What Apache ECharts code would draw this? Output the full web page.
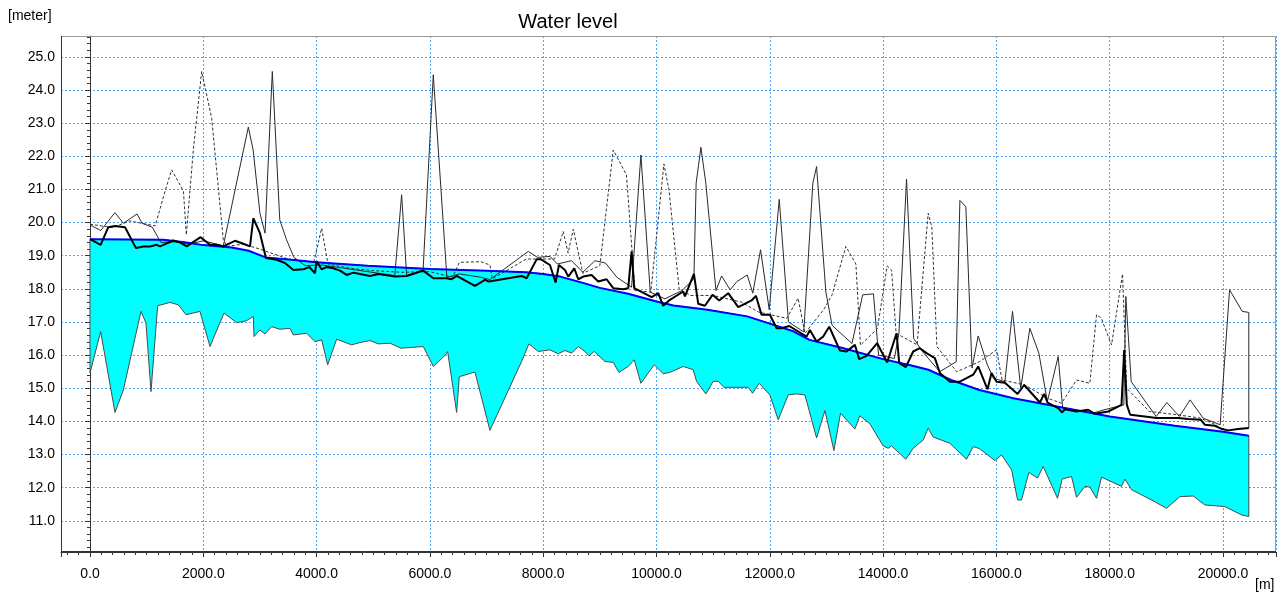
<!DOCTYPE html>
<html lang="en">

<head>
  <meta charset="UTF-8">
  <title>Water level</title>
  <script src="https://cdn.jsdelivr.net/npm/echarts@6/dist/echarts.min.js"></script>
  <style>
    html, body { margin: 0; padding: 0; background: #fff; }
    #chart { width: 1284px; height: 594px; }
  </style>
</head>

<body>
  <div id="chart"></div>

  <script>
    // water surface (blue line, top of the cyan area)
    var waterX = [0, 1300, 1700, 2000, 2500, 2800, 3100, 3600, 4000, 4900, 6000, 7000, 7700, 8000, 8300, 8700, 9000, 9500, 10000, 10300, 10900, 11600, 12000, 12400, 12700, 13300, 14000, 14500, 14800, 15200, 15700, 16300, 17000, 18000, 19150, 20000, 20456]
    var waterY = [19.50, 19.48, 19.40, 19.32, 19.25, 19.15, 18.95, 18.87, 18.80, 18.70, 18.60, 18.55, 18.50, 18.45, 18.37, 18.18, 18.03, 17.85, 17.62, 17.50, 17.37, 17.17, 16.95, 16.73, 16.46, 16.21, 15.88, 15.69, 15.56, 15.25, 14.95, 14.70, 14.47, 14.15, 13.87, 13.69, 13.57]

    // river bed (lower edge of the cyan area)
    var bedX = [0, 188, 441, 589, 900, 988, 1077, 1194, 1412, 1559, 1694, 1941, 2118, 2365, 2589, 2765, 2883, 2895, 3000, 3089, 3206, 3353, 3530, 3589, 3824, 3971, 4089, 4195, 4354, 4618, 4765, 4942, 5089, 5295, 5489, 5883, 6060, 6266, 6313, 6472, 6519, 6795, 7060, 7619, 7748, 7913, 8119, 8266, 8384, 8502, 8619, 8737, 8807, 8901, 9090, 9237, 9337, 9501, 9607, 9725, 9854, 9960, 10119, 10237, 10472, 10648, 10707, 10872, 11001, 11090, 11190, 11414, 11619, 11696, 11814, 12002, 12149, 12325, 12473, 12620, 12826, 12973, 13132, 13249, 13502, 13590, 13767, 14002, 14090, 14150, 14402, 14531, 14708, 14796, 14884, 15179, 15473, 15591, 15700, 15973, 16091, 16268, 16374, 16444, 16573, 16726, 16826, 17079, 17162, 17326, 17415, 17562, 17650, 17768, 17856, 18209, 18268, 18386, 18739, 19004, 19239, 19474, 19680, 20033, 20151, 20327, 20456]
    var bedY = [15.46, 16.71, 14.27, 14.95, 17.32, 16.97, 14.90, 17.49, 17.59, 17.52, 17.22, 17.32, 16.26, 17.27, 16.98, 17.04, 17.17, 16.56, 16.76, 16.64, 16.86, 16.78, 16.81, 16.61, 16.66, 16.41, 16.46, 15.71, 16.48, 16.31, 16.38, 16.44, 16.34, 16.36, 16.21, 16.26, 15.66, 15.99, 16.11, 14.27, 15.35, 15.49, 13.73, 15.81, 16.34, 16.11, 16.16, 16.04, 16.14, 16.06, 16.26, 16.11, 15.98, 16.11, 15.81, 15.78, 15.48, 15.66, 15.86, 15.15, 15.46, 15.71, 15.44, 15.48, 15.66, 15.56, 15.21, 14.83, 15.21, 15.21, 15.03, 15.03, 15.03, 14.85, 15.15, 14.80, 14.05, 14.80, 14.83, 14.80, 13.50, 14.33, 13.12, 14.25, 13.77, 14.17, 13.93, 13.26, 13.19, 13.26, 12.86, 13.19, 13.44, 13.80, 13.53, 13.34, 12.86, 13.24, 13.18, 12.82, 12.99, 12.54, 11.63, 11.63, 12.46, 12.29, 12.64, 11.68, 12.26, 12.34, 11.71, 12.04, 12.02, 11.68, 12.32, 12.04, 12.26, 11.94, 11.63, 11.38, 11.73, 11.75, 11.48, 11.43, 11.33, 11.18, 11.13]

    // thick black line
    var maxX = [0, 188, 323, 441, 618, 812, 941, 1059, 1177, 1236, 1470, 1589, 1706, 1953, 2118, 2236, 2353, 2559, 2706, 2824, 2883, 3000, 3106, 3295, 3442, 3589, 3765, 3871, 3971, 4000, 4089, 4177, 4295, 4413, 4531, 4648, 4766, 4942, 5089, 5383, 5589, 5883, 6060, 6295, 6383, 6472, 6795, 6972, 7042, 7619, 7707, 7884, 7961, 8119, 8219, 8278, 8384, 8443, 8549, 8619, 8707, 8854, 8972, 9119, 9237, 9413, 9501, 9561, 9607, 9914, 10031, 10119, 10237, 10472, 10502, 10661, 10737, 10854, 10990, 11107, 11266, 11443, 11679, 11755, 11855, 12002, 12120, 12208, 12343, 12649, 12708, 12826, 12943, 13049, 13238, 13355, 13502, 13578, 13709, 13896, 14072, 14238, 14285, 14402, 14531, 14649, 14767, 14914, 15003, 15179, 15356, 15591, 15679, 15844, 15914, 16003, 16150, 16374, 16491, 16768, 16844, 16903, 17091, 17162, 17209, 17415, 17621, 17738, 17974, 18209, 18256, 18303, 18362, 18621, 18827, 19062, 19209, 19386, 19609, 19680, 19856, 19986, 20092, 20268, 20456]
    var maxY = [19.50, 19.33, 19.86, 19.90, 19.86, 19.23, 19.28, 19.28, 19.33, 19.28, 19.46, 19.40, 19.28, 19.56, 19.33, 19.33, 19.28, 19.45, 19.36, 19.28, 20.13, 19.68, 18.93, 18.88, 18.78, 18.57, 18.59, 18.66, 18.47, 18.83, 18.59, 18.66, 18.62, 18.55, 18.42, 18.49, 18.45, 18.39, 18.45, 18.37, 18.39, 18.55, 18.32, 18.32, 18.29, 18.39, 18.09, 18.27, 18.22, 18.39, 18.32, 18.89, 18.89, 18.72, 18.19, 18.72, 18.57, 18.37, 18.62, 18.29, 18.37, 18.42, 18.22, 18.29, 18.02, 17.99, 18.02, 19.13, 18.02, 17.75, 17.87, 17.49, 17.67, 17.92, 17.77, 18.45, 17.55, 17.49, 17.82, 17.65, 17.87, 17.45, 17.65, 17.79, 17.22, 17.22, 16.81, 16.81, 16.88, 16.56, 16.76, 16.41, 16.56, 16.86, 16.14, 16.11, 16.31, 15.88, 15.98, 16.36, 15.78, 16.66, 15.76, 15.64, 16.11, 16.21, 16.06, 15.91, 15.46, 15.20, 15.20, 15.41, 15.66, 14.97, 15.46, 15.20, 15.17, 14.83, 15.10, 14.57, 14.83, 14.57, 14.40, 14.27, 14.37, 14.30, 14.35, 14.23, 14.30, 14.50, 16.15, 14.50, 14.20, 14.15, 14.10, 14.10, 14.10, 14.07, 14.05, 13.90, 13.87, 13.77, 13.73, 13.77, 13.80]

    // thin solid line
    var leftX = [0, 190, 440, 590, 830, 920, 1100, 1250, 1500, 1750, 2000, 2353, 2795, 2880, 3000, 3090, 3218, 3350, 3470, 3600, 3800, 4100, 4500, 4900, 5380, 5501, 5590, 5880, 6060, 6300, 6520, 6900, 7060, 7737, 7900, 8120, 8250, 8500, 8700, 8913, 9100, 9300, 9560, 9725, 9890, 10150, 10450, 10660, 10700, 10784, 10870, 11050, 11149, 11300, 11420, 11601, 11700, 11837, 11990, 12167, 12330, 12600, 12760, 12826, 12990, 13100, 13450, 13640, 13830, 13920, 14200, 14280, 14414, 14540, 14700, 15000, 15290, 15356, 15461, 15570, 15679, 15840, 15950, 16150, 16285, 16430, 16591, 16750, 16900, 17091, 17170, 17400, 17700, 17900, 18250, 18285, 18380, 18820, 19010, 19230, 19420, 19650, 19950, 20116, 20340, 20456, 20456]
    var leftY = [19.93, 19.76, 20.30, 19.98, 20.26, 19.98, 19.86, 19.40, 19.42, 19.35, 19.45, 19.30, 22.88, 22.19, 20.28, 19.68, 24.56, 20.08, 19.48, 18.95, 18.70, 18.72, 18.62, 18.52, 18.40, 20.84, 18.40, 18.58, 24.46, 18.35, 18.45, 18.35, 18.28, 19.13, 18.95, 18.98, 18.75, 18.85, 18.50, 18.85, 18.78, 18.35, 18.05, 22.04, 17.90, 17.70, 17.95, 18.30, 21.19, 22.27, 21.20, 17.95, 18.39, 17.97, 18.22, 18.42, 17.87, 19.18, 17.37, 20.70, 17.00, 16.70, 21.19, 21.69, 17.90, 16.90, 16.35, 17.82, 17.85, 16.00, 15.90, 16.66, 21.31, 16.50, 16.10, 15.50, 15.80, 20.67, 20.48, 15.61, 16.58, 15.71, 15.30, 15.20, 17.32, 15.00, 16.81, 16.06, 14.60, 15.96, 14.40, 14.35, 14.25, 14.35, 14.50, 17.77, 15.20, 14.15, 14.57, 14.15, 14.65, 14.10, 13.90, 17.97, 17.32, 17.29, 13.80]

    // thin dashed line
    var rightX = [0, 400, 700, 1000, 1150, 1300, 1440, 1570, 1650, 1700, 1824, 1971, 2148, 2353, 2420, 2700, 3000, 3500, 3950, 4089, 4200, 4600, 5000, 5500, 6000, 6400, 6520, 6900, 7060, 7100, 7700, 8200, 8354, 8440, 8531, 8700, 9000, 9237, 9470, 9620, 9900, 10131, 10220, 10400, 10600, 11000, 11500, 11800, 12300, 12500, 12620, 12950, 13100, 13343, 13520, 13600, 13900, 14072, 14150, 14230, 14600, 14796, 14860, 14950, 15300, 15700, 16003, 16100, 16500, 16900, 17150, 17415, 17650, 17768, 17850, 18033, 18227, 18300, 18700, 19200, 19600, 19900]
    var rightY = [19.95, 19.85, 20.05, 19.95, 19.90, 20.80, 21.59, 21.20, 20.94, 19.63, 22.19, 24.56, 23.15, 19.48, 19.28, 19.35, 19.20, 18.90, 18.80, 19.83, 18.75, 18.62, 18.55, 18.50, 18.52, 18.35, 18.80, 18.82, 18.72, 18.30, 18.90, 18.90, 19.73, 19.08, 19.80, 18.47, 18.70, 22.19, 21.44, 17.95, 17.90, 21.77, 20.99, 18.00, 17.80, 17.80, 17.60, 17.30, 17.11, 17.72, 16.66, 17.37, 17.82, 19.28, 18.75, 16.30, 16.80, 18.69, 18.57, 16.66, 16.31, 20.28, 19.88, 16.26, 15.50, 15.80, 16.16, 15.25, 15.10, 14.70, 14.55, 15.25, 15.15, 17.22, 17.12, 16.31, 18.45, 15.00, 14.30, 14.20, 14.10, 13.88]

    function pairs(xs, ys) {
      return xs.map(function (x, i) { return [x, ys[i]] })
    }

    var mCharts = echarts.init(document.getElementById('chart'), null, { renderer: 'canvas' })

    var gridBlue = '#4aa3ff'
    var font = 'Liberation Sans, Arial, sans-serif'

    var option = {
      animation: false,
      backgroundColor: '#fff',
      textStyle: { fontFamily: font },
      graphic: [
        { type: 'text', x: 568, y: 12, style: { text: 'Water level', fontSize: 20, fill: '#000', fontFamily: font, textAlign: 'center' } },
        { type: 'text', x: 8, y: 9, style: { text: '[meter]', fontSize: 14, fill: '#000', fontFamily: font } },
        { type: 'text', x: 1255, y: 578, style: { text: '[m]', fontSize: 14, fill: '#000', fontFamily: font } },
        // plot frame drawn over the boundary grid lines
        { type: 'rect', z: 100, silent: true, shape: { x: 61.5, y: 36.5, width: 1214, height: 515 }, style: { fill: null, stroke: '#9a9a9a', lineWidth: 1 } },
        { type: 'line', z: 101, silent: true, shape: { x1: 61.5, y1: 36, x2: 61.5, y2: 552 }, style: { stroke: '#333', lineWidth: 1 } },
        { type: 'line', z: 101, silent: true, shape: { x1: 61, y1: 551.5, x2: 1276, y2: 551.5 }, style: { stroke: '#333', lineWidth: 1 } }
      ],
      grid: {
        left: 61, right: 8, top: 36, bottom: 42
      },
      xAxis: {
        type: 'value',
        min: -512, max: 20936,
        splitNumber: 10,
        axisLine: { lineStyle: { color: '#333' } },
        axisTick: { length: 5, lineStyle: { color: '#333' } },
        minorTick: { show: true, splitNumber: 10, length: 3, lineStyle: { color: '#333' } },
        axisLabel: {
          showMinLabel: false, showMaxLabel: false,
          color: '#000', fontSize: 14, margin: 15,
          formatter: function (v) { return v.toFixed(1) }
        },
        splitLine: { show: true, lineStyle: { color: gridBlue, type: [2, 2], width: 1 } }
      },
      yAxis: {
        type: 'value',
        min: 10.06, max: 25.63,
        splitNumber: 15,
        axisLine: { show: true, lineStyle: { color: '#333' } },
        axisTick: { show: true, length: 5, lineStyle: { color: '#333' } },
        minorTick: { show: true, splitNumber: 5, length: 3, lineStyle: { color: '#333' } },
        axisLabel: {
          showMinLabel: false, showMaxLabel: false,
          color: '#000', fontSize: 14, margin: 6,
          formatter: function (v) { return v.toFixed(1) }
        },
        splitLine: { show: true, lineStyle: { color: gridBlue, type: [2, 2], width: 1 } }
      },
      series: [
        {
          // cyan water body between surface and bed
          type: 'custom',
          silent: true,
          data: [[0, waterY[0]]],
          encode: { x: 0, y: 1 },
          renderItem: function (params, api) {
            var pts = []
            for (var i = 0; i < waterX.length; i++) pts.push(api.coord([waterX[i], waterY[i]]))
            for (var j = bedX.length - 1; j >= 0; j--) pts.push(api.coord([bedX[j], bedY[j]]))
            return {
              type: 'polygon',
              shape: { points: pts },
              style: { fill: '#00ffff', stroke: '#4a4a4a', lineWidth: 1 }
            }
          },
          z: 1
        },
        {
          name: 'dashed', type: 'line', data: pairs(rightX, rightY),
          showSymbol: false, silent: true,
          lineStyle: { color: '#333', width: 1, type: [3, 2] }, z: 3
        },
        {
          name: 'thin', type: 'line', data: pairs(leftX, leftY),
          showSymbol: false, silent: true,
          lineStyle: { color: '#2a2a2a', width: 1 }, z: 3
        },
        {
          name: 'water', type: 'line', data: pairs(waterX, waterY),
          showSymbol: false, silent: true,
          lineStyle: { color: '#0000ff', width: 2 }, z: 4
        },
        {
          name: 'thick', type: 'line', data: pairs(maxX, maxY),
          showSymbol: false, silent: true,
          lineStyle: { color: '#000', width: 2 }, z: 5
        }
      ]
    }

    mCharts.setOption(option)
    window.onresize = mCharts.resize
  </script>
</body>

</html>
